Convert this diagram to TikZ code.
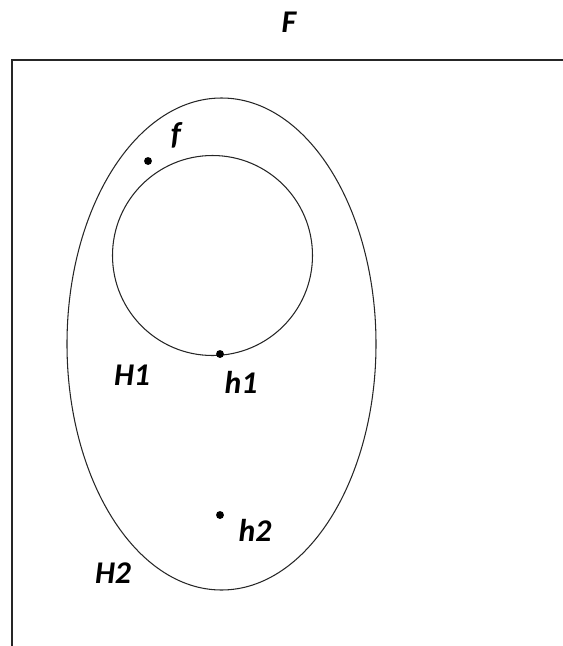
\documentclass[tikz,border=0pt]{standalone}
\usepackage{fontspec}
\setmainfont{Carlito}
\usepackage{xcolor}

\begin{document}
\begin{tikzpicture}[
  x=0.02cm, y=-0.02cm, line width=0.6pt,  setline/.style={draw=black!85},  dot/.style={circle,fill=black,inner sep=0pt,minimum size=4.5pt},  lbl/.style={font=\fontsize{18}{21}\selectfont\bfseries\itshape,inner sep=0pt}
]
  \useasboundingbox (0,0) rectangle (563,646);
  % universe F: only top and left edges show
  \draw[setline] (563,60) -- (12,60) -- (12,646);
  \node[lbl] (F) at (289,22) {F};
  % sets
  \draw[setline] (221.5,344) ellipse [x radius=154.5, y radius=246];
  \draw[setline] (212.5,255.5) circle [radius=100];
  % points
  \node[dot] (f) at (148,161) {};
  \node[dot] (h1) at (220,354) {};
  \node[dot] (h2) at (220,515) {};
  \node[lbl] (lf) at (176,135) {f};
  \node[lbl] (lh1) at (241,382) {h1};
  \node[lbl] (lh2) at (255,530) {h2};
  \node[lbl] (lH1) at (132,375) {H1};
  \node[lbl] (lH2) at (113,573) {H2};
\end{tikzpicture}
\end{document}
